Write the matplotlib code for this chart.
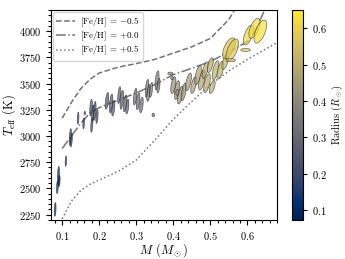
import numpy as np
import matplotlib
matplotlib.use("Agg")
import matplotlib.pyplot as plt
from matplotlib.ticker import MultipleLocator
from matplotlib.colors import Normalize

plt.rcParams['font.family'] = 'serif'
plt.rcParams['font.serif'] = ['cmr10', 'DejaVu Serif']
plt.rcParams['mathtext.fontset'] = 'cm'
plt.rcParams['axes.formatter.use_mathtext'] = True

# isochrone-like tracks, one per metallicity
trk_m_lo = [0.10, 0.125, 0.15, 0.175, 0.20, 0.25, 0.30, 0.35, 0.40, 0.45, 0.50, 0.55, 0.57]
trk_t_lo = [3170, 3320, 3450, 3540, 3600, 3655, 3690, 3730, 3790, 3850, 3930, 4110, 4230]
trk_m_mid = [0.10, 0.125, 0.15, 0.175, 0.20, 0.25, 0.30, 0.35, 0.40, 0.45, 0.50, 0.55, 0.60, 0.62, 0.64, 0.65]
trk_t_mid = [2880, 3000, 3120, 3220, 3270, 3340, 3410, 3490, 3585, 3645, 3710, 3800, 3900, 3990, 4150, 4230]
trk_m_hi = [0.10, 0.125, 0.15, 0.175, 0.20, 0.25, 0.30, 0.35, 0.40, 0.45, 0.50, 0.55, 0.60, 0.65, 0.68]
trk_t_hi = [2210, 2380, 2480, 2540, 2580, 2660, 2770, 2960, 3160, 3330, 3490, 3620, 3730, 3830, 3890]

# stars: mass, teff, half sizes of error box, correlation, radius
mass = [0.081, 0.087, 0.090, 0.092, 0.110, 0.122, 0.125, 0.143, 0.158, 0.161,
        0.178, 0.183, 0.180, 0.194, 0.188,
        0.221, 0.232, 0.238, 0.254, 0.261, 0.270, 0.276,
        0.297, 0.305, 0.314, 0.329, 0.333, 0.340, 0.356, 0.360, 0.346,
        0.392, 0.397, 0.400, 0.410, 0.419, 0.411, 0.428,
        0.441, 0.455, 0.467, 0.477, 0.491, 0.486, 0.500, 0.505, 0.514, 0.527, 0.540,
        0.550, 0.559, 0.555, 0.595, 0.603, 0.619, 0.635]
teff = [2300, 2510, 2620, 2570, 2760, 2990, 2960, 3170, 3120, 3218,
        3270, 3215, 3105, 3185, 3240,
        3335, 3310, 3265, 3390, 3345, 3310, 3280,
        3375, 3330, 3295, 3455, 3410, 3440, 3530, 3480, 3200,
        3596, 3550, 3485, 3437, 3390, 3415, 3420,
        3516, 3485, 3580, 3532, 3503, 3627, 3675, 3468, 3627, 3627, 3706,
        3836, 3820, 3722, 3820, 3962, 4026, 3995]
mass_err = [0.0025, 0.0025, 0.003, 0.0025, 0.002, 0.003, 0.0025, 0.0022, 0.0022, 0.002,
            0.0035, 0.0035, 0.003, 0.003, 0.0035,
            0.0048, 0.0048, 0.0042, 0.0042, 0.0048, 0.0048, 0.0042,
            0.0048, 0.0048, 0.0048, 0.0048, 0.0048, 0.0042, 0.0055, 0.0042, 0.0035,
            0.007, 0.004, 0.007, 0.007, 0.008, 0.0045, 0.007,
            0.008, 0.008, 0.009, 0.009, 0.009, 0.008, 0.008, 0.008, 0.009, 0.009, 0.009,
            0.017, 0.017, 0.013, 0.013, 0.014, 0.015, 0.017]
teff_err = [65, 60, 90, 55, 50, 80, 65, 58, 52, 17,
            80, 80, 70, 65, 90,
            80, 90, 75, 80, 90, 80, 70,
            80, 80, 75, 85, 80, 70, 90, 70, 17,
            13, 15, 80, 90, 85, 28, 85,
            85, 80, 90, 95, 90, 80, 70, 62, 90, 85, 72,
            100, 105, 15, 14, 95, 95, 110]
rho = [0.3, 0.3, 0.3, 0.3, 0.3, 0.5, 0.5, 0.3, 0.3, 0.0,
       0.4, 0.4, 0.4, 0.4, 0.4,
       0.5, 0.5, 0.5, 0.5, 0.5, 0.5, 0.5,
       0.5, 0.5, 0.5, 0.5, 0.5, 0.5, 0.5, 0.5, 0.0,
       0.0, 0.0, 0.5, 0.5, 0.6, 0.0, 0.6,
       0.6, 0.6, 0.6, 0.6, 0.6, 0.6, 0.6, 0.6, 0.6, 0.6, 0.6,
       0.6, 0.6, 0.0, 0.0, 0.6, 0.6, 0.6]
radius = [0.11, 0.11, 0.12, 0.12, 0.14, 0.15, 0.15, 0.18, 0.19, 0.20,
          0.21, 0.21, 0.22, 0.22, 0.21,
          0.24, 0.25, 0.25, 0.27, 0.27, 0.28, 0.29,
          0.31, 0.31, 0.32, 0.34, 0.34, 0.35, 0.36, 0.36, 0.35,
          0.40, 0.40, 0.41, 0.42, 0.43, 0.42, 0.43,
          0.45, 0.46, 0.47, 0.48, 0.49, 0.49, 0.50, 0.50, 0.51, 0.52, 0.53,
          0.57, 0.58, 0.55, 0.58, 0.60, 0.62, 0.63]

fig = plt.figure(figsize=(3.45, 2.59), dpi=100)
ax = fig.add_axes([0.148, 0.151, 0.655, 0.810])
cax = fig.add_axes([0.846, 0.151, 0.032, 0.810])

cmap = plt.get_cmap('cividis')
norm = Normalize(vmin=0.073, vmax=0.65)

ax.plot(trk_m_lo, trk_t_lo, ls='--', color='0.45', lw=1.1, label=r'[Fe/H] = $-0.5$')
ax.plot(trk_m_mid, trk_t_mid, ls='-.', color='0.45', lw=1.1, label=r'[Fe/H] = $+0.0$')
ax.plot(trk_m_hi, trk_t_hi, ls=':', color='0.45', lw=1.1, label=r'[Fe/H] = $+0.5$')

t = np.linspace(0, 2*np.pi, 60)
for i in range(len(mass)):
    r = rho[i]
    ex = mass[i] + mass_err[i]*np.cos(t)
    ey = teff[i] + teff_err[i]*(r*np.cos(t) + np.sqrt(1 - r*r)*np.sin(t))
    ax.fill(ex, ey, facecolor=cmap(norm(radius[i])), alpha=0.7,
            edgecolor='0.1', lw=0.45, zorder=3)

ax.set_xlim(0.07, 0.68)
ax.set_ylim(2200, 4200)
ax.xaxis.set_major_locator(MultipleLocator(0.1))
ax.xaxis.set_minor_locator(MultipleLocator(0.02))
ax.yaxis.set_major_locator(MultipleLocator(250))
ax.yaxis.set_minor_locator(MultipleLocator(50))
ax.tick_params(which='both', direction='out', labelsize=7.5, width=0.8)
ax.tick_params(which='major', length=3.5)
ax.tick_params(which='minor', length=2)
ax.set_xlabel(r'$M$ ($M_\odot$)', fontsize=9, labelpad=0)
ax.set_ylabel(r'$T_{\rm eff}$ (K)', fontsize=9, labelpad=1)

leg = ax.legend(loc='upper left', fontsize=6.5, handlelength=2.0, borderpad=0.35,
                labelspacing=0.1, handletextpad=0.6, borderaxespad=0.25)

sm = plt.cm.ScalarMappable(norm=norm, cmap=cmap)
cb = fig.colorbar(sm, cax=cax)
cb.set_ticks([0.1, 0.2, 0.3, 0.4, 0.5, 0.6])
cb.ax.tick_params(labelsize=7.5, length=3, width=0.8)
cb.set_label(r'Radius ($R_\odot$)', fontsize=7.5, labelpad=2)

fig.savefig('out.png', dpi=100)
